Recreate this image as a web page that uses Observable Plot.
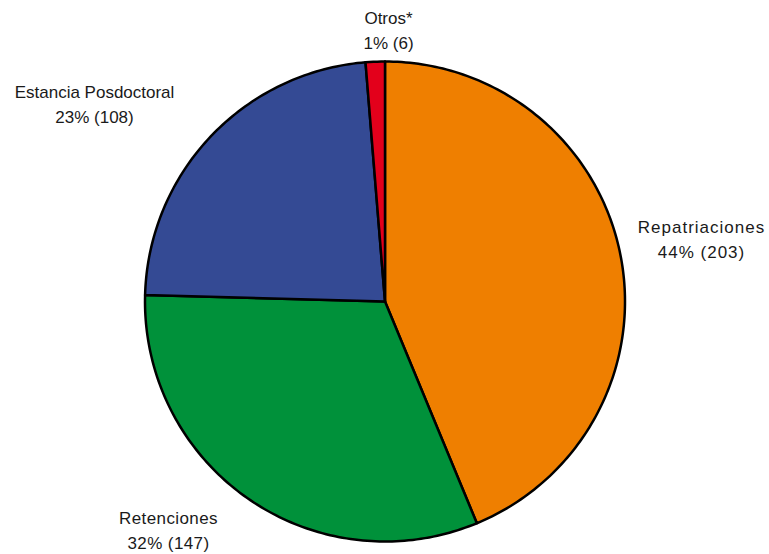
<!DOCTYPE html>
<html>
<head>
<meta charset="utf-8">
<script src="https://cdn.jsdelivr.net/npm/d3@7"></script>
<script src="https://cdn.jsdelivr.net/npm/@observablehq/plot@0.6"></script>
<style>
  html, body { margin: 0; padding: 0; background: #fff; }
  #chart svg { display: block; }
</style>
</head>
<body>
<div id="chart"></div>
<script>
// Data (clockwise from 12 o'clock)
const categories = ["Repatriaciones", "Retenciones", "Estancia Posdoctoral", "Otros*"];
const values = [203, 147, 108, 6];
const colors = ["#EF7F00", "#00913A", "#344A94", "#E3001B"];

// Label layout (pixel positions, centered)
const labelPx = [[701, 215], [168, 506], [94, 80], [388, 6]];
const labelSpacing = ["1px", "0.4px", "0px", "0px"];

const W = 769, H = 554;
const cx = 384.5, cy = 301, R = 240;

const total = d3.sum(values);
const arcs = d3.pie().sort(null).value(d => d)(values);

// Build slice outlines in unit-circle coordinates
const pts = [];
arcs.forEach((a, i) => {
  const name = categories[i];
  pts.push({name, x: 0, y: 0});
  const n = Math.max(2, Math.ceil((a.endAngle - a.startAngle) * 180 / Math.PI));
  for (let k = 0; k <= n; k++) {
    const t = a.startAngle + (a.endAngle - a.startAngle) * k / n;
    pts.push({name, x: Math.sin(t), y: Math.cos(t)});
  }
  pts.push({name, x: 0, y: 0});
});

const labels = categories.map((c, i) => ({
  name: c,
  text: `${c}\n${Math.round(values[i] / total * 100)}% (${values[i]})`,
  x: (labelPx[i][0] - cx) / R,
  y: (cy - labelPx[i][1]) / R
}));

const plot = Plot.plot({
  width: W,
  height: H,
  marginLeft: cx - R,
  marginRight: W - (cx + R),
  marginTop: cy - R,
  marginBottom: H - (cy + R),
  x: {domain: [-1, 1], axis: null},
  y: {domain: [-1, 1], axis: null},
  color: {domain: categories, range: colors},
  style: {background: "#fff", fontFamily: "'Liberation Sans', Arial, sans-serif"},
  marks: [
    Plot.line(pts, {x: "x", y: "y", z: "name", fill: "name", stroke: "#000", strokeWidth: 2.5, strokeLinejoin: "round", curve: "linear"}),
    Plot.text(labels, {x: "x", y: "y", text: "text", fontSize: 17, lineAnchor: "top", lineHeight: 1.45, textAnchor: "middle", fill: "#1a1a1a"})
  ]
});

d3.select(plot).selectAll("text").each(function(d, i) {
  if (i < labelSpacing.length) this.style.letterSpacing = labelSpacing[i];
});

document.getElementById("chart").appendChild(plot);
</script>
</body>
</html>
